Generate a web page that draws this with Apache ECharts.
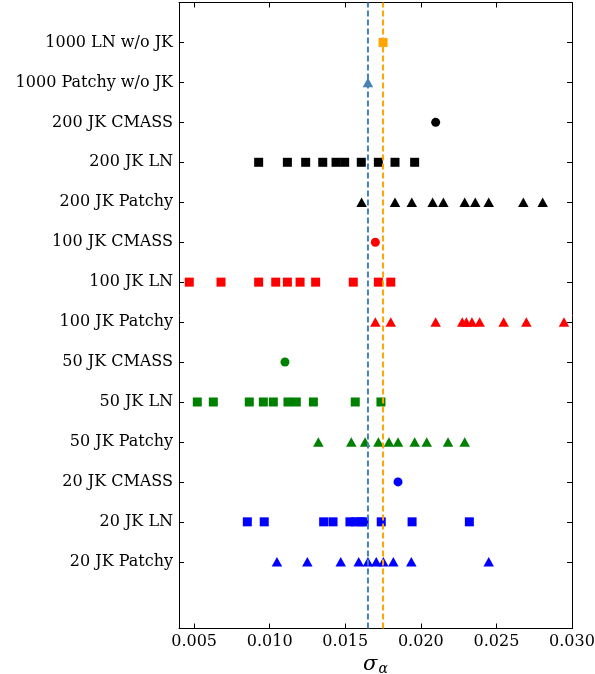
<!DOCTYPE html>
<html>
<head>
<meta charset="utf-8">
<script src="https://cdn.jsdelivr.net/npm/echarts@6/dist/echarts.min.js"></script>
<style>html,body{margin:0;padding:0;background:#fff}#c{width:595px;height:674px}</style>
</head>
<body>
<div id="c"></div>
<script>
// Row labels, bottom (index 0) to top (index 13)
const rowLabels = [
  '20 JK Patchy', '20 JK LN', '20 JK CMASS',
  '50 JK Patchy', '50 JK LN', '50 JK CMASS',
  '100 JK Patchy', '100 JK LN', '100 JK CMASS',
  '200 JK Patchy', '200 JK LN', '200 JK CMASS',
  '1000 Patchy w/o JK', '1000 LN w/o JK'
];
const xTicks = [0.005, 0.010, 0.015, 0.020, 0.025, 0.030];

const jk20Patchy = [0.01048, 0.01249, 0.01470, 0.01589, 0.01650, 0.01705, 0.01752, 0.01818, 0.01937, 0.02449];
const jk20LN = [0.00852, 0.00964, 0.01357, 0.01419, 0.01531, 0.01566, 0.01602, 0.01625, 0.01738, 0.01942, 0.02321];
const jk20CMASS = [0.01849];
const jk50Patchy = [0.01322, 0.01540, 0.01631, 0.01719, 0.01789, 0.01849, 0.01959, 0.02039, 0.02180, 0.02290];
const jk50LN = [0.00521, 0.00627, 0.00865, 0.00958, 0.01024, 0.01121, 0.01176, 0.01289, 0.01566, 0.01736];
const jk50CMASS = [0.01101];
const jk100Patchy = [0.01699, 0.01801, 0.02098, 0.02274, 0.02301, 0.02338, 0.02389, 0.02548, 0.02698, 0.02947];
const jk100LN = [0.00468, 0.00678, 0.00927, 0.01040, 0.01117, 0.01201, 0.01304, 0.01553, 0.01719, 0.01801];
const jk100CMASS = [0.01699];
const jk200Patchy = [0.01608, 0.01829, 0.01940, 0.02078, 0.02149, 0.02290, 0.02360, 0.02449, 0.02678, 0.02806];
const jk200LN = [0.00927, 0.01117, 0.01238, 0.01351, 0.01439, 0.01496, 0.01606, 0.01719, 0.01829, 0.01959];
const jk200CMASS = [0.02098];
const patchy1000 = [0.0165];
const ln1000 = [0.0175];
const refLines = [0.0165, 0.0175];
const yMin = -1.67, yMax = 14;

const chart = echarts.init(document.getElementById('c'), null, {renderer: 'canvas'});
function pts(arr, row) { return arr.map(v => [v, row]); }
function ser(arr, row, color, shape) {
  return {
    type: 'scatter', xAxisIndex: 0, yAxisIndex: 0,
    data: pts(arr, row), symbol: shape,
    symbolSize: shape === 'triangle' ? [10.5, 9.5] : (shape === 'circle' ? 9 : 9),
    itemStyle: {color: color, opacity: 1}, z: 3, silent: true
  };
}
function vline(x, color) {
  return {
    type: 'line', xAxisIndex: 0, yAxisIndex: 0, silent: true, symbol: 'none', z: 4,
    data: [[x, yMin], [x, yMax]],
    lineStyle: {color: color, type: [6, 3], width: 2}
  };
}
const labelFont = 'DejaVu Serif';
const series = [
  ser(jk20Patchy, 0, '#0000ff', 'triangle'),
  ser(jk20LN, 1, '#0000ff', 'rect'),
  ser(jk20CMASS, 2, '#0000ff', 'circle'),
  ser(jk50Patchy, 3, '#008000', 'triangle'),
  ser(jk50LN, 4, '#008000', 'rect'),
  ser(jk50CMASS, 5, '#008000', 'circle'),
  ser(jk100Patchy, 6, '#ff0000', 'triangle'),
  ser(jk100LN, 7, '#ff0000', 'rect'),
  ser(jk100CMASS, 8, '#ff0000', 'circle'),
  ser(jk200Patchy, 9, '#000000', 'triangle'),
  ser(jk200LN, 10, '#000000', 'rect'),
  ser(jk200CMASS, 11, '#000000', 'circle'),
  ser(patchy1000, 12, '#4682b4', 'triangle'),
  ser(ln1000, 13, '#ffa500', 'rect'),
  vline(refLines[0], '#4682b4'),
  vline(refLines[1], '#ffa500')
];

const xBase = {
  type: 'value', min: 0.004, max: 0.030,
  splitLine: {show: false},
  axisLine: {show: true, onZero: false, lineStyle: {color: '#000', width: 1}},
  axisTick: {show: true, inside: true, length: 5, lineStyle: {color: '#000', width: 1}, customValues: xTicks},
  minorTick: {show: false}
};
const yBase = {
  type: 'value', min: yMin, max: yMax,
  splitLine: {show: false},
  axisLine: {show: true, onZero: false, lineStyle: {color: '#000', width: 1}},
  axisTick: {show: true, inside: true, length: 5, lineStyle: {color: '#000', width: 1}, customValues: rowLabels.map((l, i) => i)}
};

chart.setOption({
  animation: false,
  backgroundColor: '#fff',
  grid: {left: 179, right: 23, top: 2.5, bottom: 45.5, containLabel: false, outerBoundsMode: 'none'},
  xAxis: [
    Object.assign({}, xBase, {
      position: 'bottom',
      axisLabel: {
        show: true, customValues: xTicks, color: '#000', fontFamily: labelFont, fontSize: 16, margin: 5,
        formatter: v => v.toFixed(3)
      },
      name: '{s|σ}{a|α}', nameLocation: 'middle', nameGap: 20,
      nameTextStyle: {
        rich: {
          s: {fontFamily: labelFont, fontStyle: 'italic', fontSize: 21, color: '#000'},
          a: {fontFamily: labelFont, fontStyle: 'italic', fontSize: 14, color: '#000', verticalAlign: 'bottom', padding: [8, 0, 0, 1]}
        }
      }
    }),
    Object.assign({}, xBase, {position: 'top', axisLabel: {show: false}})
  ],
  yAxis: [
    Object.assign({}, yBase, {
      position: 'left',
      axisLabel: {
        show: true, customValues: rowLabels.map((l, i) => i), color: '#000', fontFamily: labelFont, fontSize: 16, margin: 6,
        formatter: v => rowLabels[Math.round(v)] || ''
      }
    }),
    Object.assign({}, yBase, {position: 'right', axisLabel: {show: false}})
  ],
  series: series
});
</script>
</body>
</html>
